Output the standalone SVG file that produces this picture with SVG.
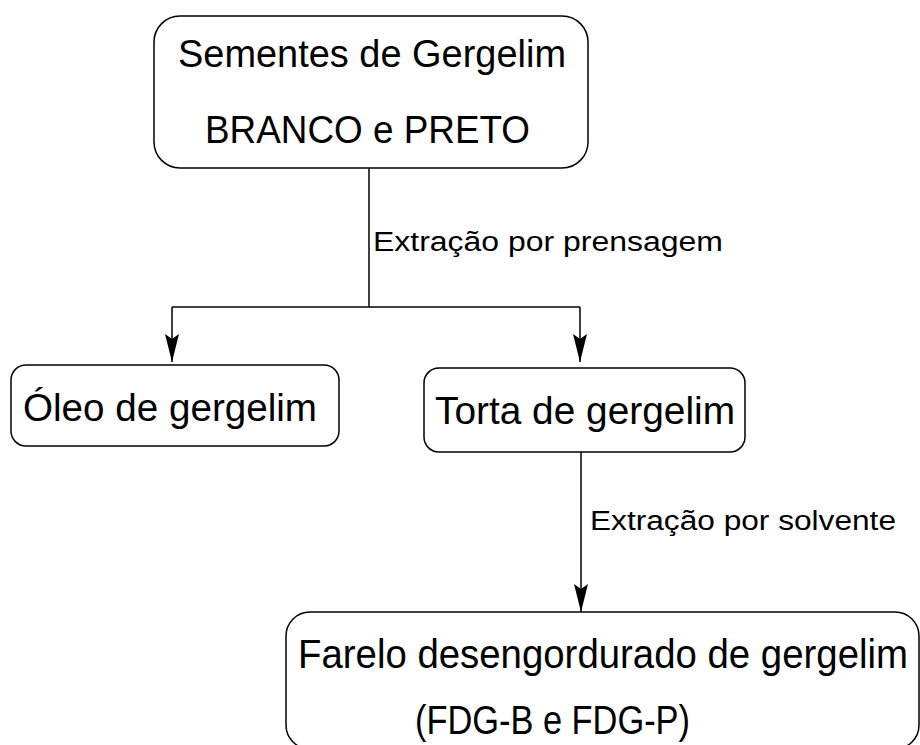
<svg xmlns="http://www.w3.org/2000/svg" width="920" height="745" viewBox="0 0 920 745">
<style>
.box{fill:#fff;stroke:#000;stroke-width:1.5}
.t{font-family:"Liberation Sans",Arial,sans-serif;font-size:38px;fill:#000}
.tb{font-family:"Liberation Sans",Arial,sans-serif;font-size:41px;fill:#000}
.lb{font-family:"Liberation Sans",Arial,sans-serif;font-size:27px;fill:#000}
.ln{fill:none;stroke:#000;stroke-width:1.5}
</style>
<defs>
<marker id="ah" markerUnits="userSpaceOnUse" viewBox="0 0 28 14" refX="28" refY="7" markerWidth="28" markerHeight="14" orient="auto">
<path d="M0,0 L28,7 L0,14 L5,7 Z" fill="#000"/>
</marker>
</defs>
<rect width="920" height="745" fill="#fff"/>
<g id="connectors">
<path class="ln" d="M369,168 V307"/>
<path class="ln" d="M172,307 H580"/>
<path class="ln" d="M172,307 V362" marker-end="url(#ah)"/>
<path class="ln" d="M580,307 V362" marker-end="url(#ah)"/>
<path class="ln" d="M581,452 V612" marker-end="url(#ah)"/>
<text class="lb" x="373" y="251" textLength="350" lengthAdjust="spacingAndGlyphs">Extração por prensagem</text>
<text class="lb" x="590" y="530" textLength="306" lengthAdjust="spacingAndGlyphs">Extração por solvente</text>
</g>
<g id="sementes">
<rect class="box" x="154" y="16" width="434" height="152" rx="26"/>
<text class="t" x="178" y="67" textLength="388" lengthAdjust="spacingAndGlyphs">Sementes de Gergelim</text>
<text class="t" x="205" y="143" textLength="325" lengthAdjust="spacingAndGlyphs">BRANCO e PRETO</text>
</g>
<g id="oleo">
<rect class="box" x="11" y="365" width="328" height="81" rx="15"/>
<text class="t" x="23" y="421" textLength="294" lengthAdjust="spacingAndGlyphs">Óleo de gergelim</text>
</g>
<g id="torta">
<rect class="box" x="424" y="368" width="321" height="84" rx="15"/>
<text class="t" x="435" y="424" textLength="300" lengthAdjust="spacingAndGlyphs">Torta de gergelim</text>
</g>
<g id="farelo">
<rect class="box" x="286" y="612" width="633" height="137" rx="24"/>
<text class="tb" x="298" y="668" textLength="610" lengthAdjust="spacingAndGlyphs">Farelo desengordurado de gergelim</text>
<text class="tb" x="415" y="734" textLength="275" lengthAdjust="spacingAndGlyphs">(FDG-B e FDG-P)</text>
</g>
</svg>
